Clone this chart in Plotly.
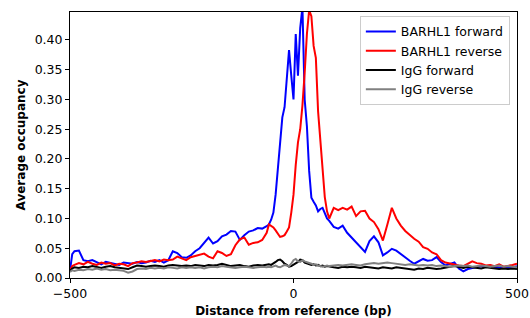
import plotly.graph_objects as go

# x positions (bp from reference)
distance = [-500, -495, -490] + list(range(-480, -55, 10)) + list(range(-55, 81, 5)) + list(range(90, 501, 10))

barhl1_forward = [
    0.013, 0.040, 0.045,
    0.046, 0.030, 0.028, 0.030, 0.027, 0.023, 0.027, 0.025, 0.024, 0.022,
    0.026, 0.025, 0.024, 0.027, 0.025, 0.026, 0.029, 0.027, 0.030, 0.026,
    0.030, 0.045, 0.042, 0.035, 0.034, 0.038, 0.045, 0.050, 0.060, 0.068,
    0.058, 0.062, 0.070, 0.073, 0.079, 0.078, 0.064, 0.072, 0.078, 0.080,
    0.084, 0.083, 0.087,
    0.090, 0.098, 0.110, 0.140, 0.187, 0.225, 0.270, 0.287, 0.330, 0.383,
    0.340, 0.300, 0.410, 0.340, 0.420, 0.455, 0.300, 0.255, 0.180, 0.135,
    0.128, 0.122, 0.112, 0.116, 0.118, 0.108, 0.100, 0.096,
    0.086, 0.083, 0.088, 0.076, 0.068, 0.060, 0.052, 0.044, 0.062, 0.070,
    0.060, 0.038, 0.043, 0.049, 0.046, 0.040, 0.035, 0.029, 0.024, 0.028,
    0.032, 0.029, 0.030, 0.035, 0.027, 0.021, 0.024, 0.026, 0.016, 0.011,
    0.015, 0.017, 0.018, 0.020, 0.019, 0.021, 0.019, 0.018, 0.017, 0.019,
    0.018, 0.020,
]

barhl1_reverse = [
    0.013, 0.020, 0.022,
    0.025, 0.023, 0.027, 0.024, 0.022, 0.026, 0.024, 0.025, 0.021, 0.024,
    0.023, 0.020, 0.025, 0.026, 0.028, 0.027, 0.029, 0.030, 0.028, 0.031,
    0.030, 0.031, 0.036, 0.033, 0.030, 0.035, 0.037, 0.038, 0.041, 0.036,
    0.033, 0.045, 0.042, 0.037, 0.040, 0.055, 0.065, 0.068, 0.056, 0.059,
    0.060, 0.064, 0.076,
    0.090, 0.088, 0.085, 0.080, 0.075, 0.069, 0.070, 0.072, 0.078, 0.085,
    0.110, 0.140, 0.190, 0.228, 0.250, 0.290, 0.345, 0.410, 0.450, 0.440,
    0.390, 0.370, 0.280, 0.232, 0.170, 0.136, 0.112, 0.100,
    0.118, 0.114, 0.118, 0.115, 0.120, 0.104, 0.112, 0.113, 0.100, 0.094,
    0.082, 0.063, 0.090, 0.118, 0.100, 0.088, 0.079, 0.072, 0.066, 0.061,
    0.052, 0.049, 0.043, 0.040, 0.030, 0.026, 0.024, 0.023, 0.021, 0.020,
    0.024, 0.028, 0.025, 0.024, 0.021, 0.022, 0.020, 0.023, 0.019, 0.020,
    0.022, 0.024,
]

igg_forward = [
    0.012, 0.016, 0.018,
    0.017, 0.019, 0.018, 0.020, 0.018, 0.017, 0.019, 0.020, 0.018, 0.017,
    0.016, 0.015, 0.018, 0.021, 0.020, 0.019, 0.020, 0.021, 0.020, 0.019,
    0.021, 0.022, 0.021, 0.020, 0.021, 0.020, 0.022, 0.021, 0.020, 0.022,
    0.021, 0.022, 0.024, 0.022, 0.020, 0.021, 0.022, 0.020, 0.019, 0.021,
    0.022, 0.021, 0.022,
    0.023, 0.022, 0.024, 0.027, 0.030, 0.031, 0.028, 0.024, 0.022, 0.019,
    0.020, 0.022, 0.025, 0.027, 0.031, 0.030, 0.026, 0.025, 0.024, 0.022,
    0.023, 0.021, 0.022, 0.020, 0.021, 0.019, 0.020, 0.019,
    0.018, 0.017, 0.019, 0.018, 0.019, 0.018, 0.017, 0.019, 0.018, 0.017,
    0.016, 0.018, 0.017, 0.016, 0.018, 0.017, 0.016, 0.015, 0.014, 0.016,
    0.015, 0.017, 0.016, 0.015, 0.016, 0.018, 0.019, 0.020, 0.018, 0.017,
    0.019, 0.018, 0.017, 0.016, 0.018, 0.017, 0.016, 0.015, 0.016, 0.015,
    0.016, 0.015,
]

igg_reverse = [
    0.010, 0.013, 0.012,
    0.014, 0.013, 0.015, 0.014, 0.016, 0.014, 0.015, 0.013, 0.014, 0.013,
    0.012, 0.009, 0.011, 0.015, 0.016, 0.015, 0.017, 0.016, 0.017, 0.016,
    0.018, 0.017, 0.016, 0.018, 0.017, 0.018, 0.017, 0.018, 0.016, 0.018,
    0.019, 0.018, 0.020, 0.019, 0.018, 0.017, 0.018, 0.019, 0.018, 0.017,
    0.018, 0.019, 0.018,
    0.019, 0.018, 0.020, 0.021, 0.019, 0.018, 0.020, 0.022, 0.021, 0.020,
    0.024, 0.030, 0.032, 0.028, 0.027, 0.030, 0.028, 0.027, 0.025, 0.024,
    0.022, 0.023, 0.021, 0.020, 0.019, 0.020, 0.021, 0.020,
    0.021, 0.022, 0.021, 0.022, 0.023, 0.022, 0.021, 0.023, 0.024, 0.025,
    0.024, 0.025, 0.026, 0.025, 0.024, 0.023, 0.022, 0.023, 0.022, 0.021,
    0.022, 0.021, 0.022, 0.020, 0.021, 0.020, 0.019, 0.020, 0.021, 0.020,
    0.021, 0.019, 0.020, 0.021, 0.020, 0.019, 0.020, 0.021, 0.019, 0.020,
    0.019, 0.018,
]

series = [
    ("BARHL1 forward", barhl1_forward, "#0000ff"),
    ("BARHL1 reverse", barhl1_reverse, "#ff0000"),
    ("IgG forward", igg_forward, "#000000"),
    ("IgG reverse", igg_reverse, "#808080"),
]

FONT = "DejaVu Sans"
fig = go.Figure()
for i, (name, vals, col) in enumerate(series):
    assert len(vals) == len(distance), (name, len(vals), len(distance))
    fig.add_trace(go.Scatter(
        x=distance, y=vals, mode="lines", name=name,
        line=dict(color=col, width=2), legendgroup=f"g{i}",
    ))

axis_common = dict(
    showgrid=False, zeroline=False, showline=True, linecolor="black",
    linewidth=1, mirror=True, ticks="outside", ticklen=4, tickwidth=1,
    tickcolor="black", tickfont=dict(family=FONT, size=12.5, color="black"),
    automargin=False,
)

fig.update_layout(
    width=530, height=318,
    margin=dict(l=70, r=13, t=12, b=40),
    paper_bgcolor="white", plot_bgcolor="white",
    font=dict(family=FONT, color="black"),
    xaxis=dict(range=[-500, 500], tickvals=[-500, 0, 500],
               title=dict(text="<b>Distance from reference (bp)</b>",
                          font=dict(family=FONT, size=12), standoff=6),
               **axis_common),
    yaxis=dict(range=[0, 0.447], tickvals=[0, 0.05, 0.10, 0.15, 0.20, 0.25, 0.30, 0.35, 0.40],
               tickformat=".2f",
               title=dict(text="<b>Average occupancy</b>",
                          font=dict(family=FONT, size=12), standoff=6),
               **axis_common),
    legend=dict(x=0.984, y=0.985, xanchor="right", yanchor="top",
                bgcolor="rgba(255,255,255,0.8)", bordercolor="#cccccc", borderwidth=1,
                font=dict(family=FONT, size=12.5, color="black"),
                itemwidth=30, tracegroupgap=0),
    showlegend=True,
)

fig.write_html(
    "out.html",
    config={"displayModeBar": False},
    post_script="document.body.style.margin='0';document.body.style.overflow='hidden';",
)
